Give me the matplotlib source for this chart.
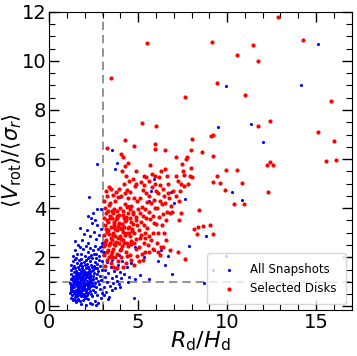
import matplotlib
matplotlib.use("Agg")
import matplotlib.pyplot as plt
from matplotlib.ticker import MultipleLocator

# 选中的盘星系 (R_d/H_d, <V_rot>/<sigma_r>)
red_x = [12.88, 5.52, 9.14, 11.46, 14.27, 10.58, 11.72, 3.45, 9.42, 11.01, 7.64, 15.82,
         12.42, 5.22, 6.01, 11.74, 15.09, 9.18, 4.25, 8.03, 16.03, 9.10, 3.24, 4.74,
         5.92, 5.97, 6.52, 7.96, 8.61, 9.18, 7.12, 7.75, 15.54, 16.14, 12.42, 12.25,
         12.56, 10.58, 9.93, 9.42, 9.23, 9.62, 9.89, 10.82, 12.28, 10.39, 10.93, 8.41,
         7.42, 8.13, 8.39, 8.63, 9.03, 8.31, 9.18, 7.27, 7.25, 7.64, 6.29, 6.09,
         5.28, 3.73,
         3.05, 3.10, 3.08, 3.12, 3.06, 3.15, 3.10, 3.20, 3.25, 3.30, 3.22, 3.28,
         3.18, 3.30, 3.25, 3.35, 3.40, 3.38, 3.45, 3.42, 3.40, 3.48, 3.35, 3.50,
         3.47, 3.15, 3.32, 3.20, 3.12, 3.45,
         3.55, 3.60, 3.52, 3.58, 3.65, 3.55, 3.62, 3.70, 3.60, 3.75, 3.80, 3.72,
         3.85, 3.78, 3.90, 3.82, 3.95, 3.88, 3.92, 3.68, 3.75, 3.98, 3.95, 3.85,
         3.60, 3.90, 3.70, 3.58, 3.65, 3.83, 3.78,
         4.05, 4.10, 4.02, 4.15, 4.08, 4.20, 4.12, 4.25, 4.05, 4.18, 4.10, 4.05,
         4.15, 4.25, 4.30, 4.30, 4.35, 4.28, 4.40, 4.32, 4.45, 4.38, 4.42, 4.35,
         4.48, 4.40, 4.30, 4.45, 4.20, 4.48, 4.22, 4.12, 4.38,
         4.55, 4.60, 4.52, 4.65, 4.58, 4.70, 4.62, 4.75, 4.55, 4.80, 4.70, 4.90,
         4.85, 4.90, 4.78, 4.95, 4.88, 4.98, 4.92, 4.85, 4.60, 4.95, 4.75, 4.72,
         4.52,
         5.05, 5.10, 5.02, 5.15, 5.08, 5.20, 5.12, 5.25, 5.18, 5.30, 5.35, 5.40,
         5.32, 5.45, 5.38, 5.48, 5.42, 5.30, 5.45, 5.20, 5.05, 5.40, 5.25,
         5.55, 5.60, 5.52, 5.65, 5.58, 5.70, 5.62, 5.75, 5.58, 5.80, 5.65, 5.85,
         5.90, 5.82, 5.95, 5.88, 5.98, 5.92, 5.70, 5.85, 5.60, 5.95,
         6.05, 6.10, 6.02, 6.15, 6.08, 6.20, 6.12, 6.25, 6.18, 6.30, 6.35, 6.40,
         6.32, 6.45, 6.38, 6.48, 6.40, 6.20, 6.45,
         6.55, 6.60, 6.52, 6.65, 6.70, 6.62, 6.78, 6.85, 6.75, 6.90, 6.95, 6.80,
         6.58,
         7.10, 7.25, 7.40, 7.50, 7.35, 7.60, 7.70, 7.45, 7.30, 7.80, 7.95, 7.90,
         8.05, 7.15, 7.60,
         3.14, 3.27, 3.36, 3.44, 3.57, 3.66, 3.74, 3.87, 3.96, 4.07, 4.17, 4.27,
         4.36, 4.47, 4.57, 4.67, 4.77, 3.17, 3.34, 3.53, 3.63, 3.81, 3.93, 4.14,
         4.33, 4.52, 4.68, 4.87, 5.14, 5.37, 3.24, 3.49, 3.71, 4.03, 4.24]
red_y = [11.80, 10.71, 10.75, 10.66, 10.83, 10.22, 9.98, 9.29, 9.11, 8.62, 8.54, 8.38,
         7.57, 7.47, 7.34, 7.34, 7.12, 7.00, 6.78, 6.81, 6.74, 6.92, 6.44, 6.54,
         6.62, 6.41, 6.35, 6.37, 6.28, 6.12, 6.07, 6.07, 5.93, 5.95, 5.87, 5.76,
         5.76, 5.55, 5.55, 5.33, 5.07, 5.04, 4.76, 5.02, 4.64, 4.16, 4.16, 3.93,
         3.80, 3.16, 3.25, 3.28, 3.31, 2.96, 2.96, 3.50, 2.21, 1.94, 2.43, 2.20,
         1.90, 1.55,
         2.10, 2.45, 2.90, 3.30, 3.60, 4.00, 4.30, 4.70, 4.50, 3.90, 3.50, 3.10,
         2.70, 2.30, 1.90, 2.00, 2.60, 2.95, 3.25, 3.70, 4.20, 4.80, 4.85, 2.20,
         1.75, 1.65, 3.45, 3.15, 2.55, 2.80,
         2.00, 2.35, 2.70, 3.00, 3.35, 3.60, 3.95, 4.30, 4.55, 4.65, 2.15, 2.50,
         2.80, 3.10, 3.40, 3.70, 4.00, 4.45, 2.60, 2.85, 3.55, 3.20, 2.30, 1.85,
         1.60, 4.80, 3.15, 3.80, 2.55, 3.90, 1.55,
         2.00, 2.45, 2.75, 3.05, 3.35, 3.60, 3.90, 4.15, 4.50, 5.00, 5.50, 6.20,
         6.10, 5.70, 5.30, 2.20, 2.60, 2.90, 3.20, 3.50, 3.80, 4.05, 4.40, 4.75,
         5.10, 5.85, 1.75, 2.45, 3.25, 3.00, 2.60, 1.60, 2.05,
         2.10, 2.55, 2.85, 3.15, 3.45, 3.75, 4.10, 4.40, 4.65, 4.90, 5.20, 5.50,
         2.35, 2.75, 3.00, 3.30, 3.65, 3.95, 4.30, 5.00, 1.90, 2.05, 1.70, 3.35,
         3.95,
         2.40, 2.80, 3.10, 3.45, 3.80, 4.05, 4.40, 4.75, 5.05, 5.30, 2.60, 3.00,
         3.30, 3.60, 3.95, 4.25, 4.60, 4.95, 5.25, 2.15, 1.85, 2.20, 3.70,
         2.50, 2.85, 3.20, 3.55, 3.85, 4.20, 4.50, 4.85, 5.10, 5.40, 5.75, 3.00,
         3.40, 3.70, 4.00, 4.35, 4.70, 5.00, 2.70, 2.35, 2.20, 5.30,
         2.60, 3.00, 3.35, 3.65, 4.00, 4.30, 4.60, 4.95, 5.25, 5.50, 3.30, 3.75,
         4.15, 4.50, 4.80, 5.60, 2.40, 2.10, 3.00,
         3.50, 3.85, 4.20, 4.60, 5.00, 5.30, 3.80, 4.10, 4.40, 3.85, 4.70, 2.30,
         2.70,
         4.50, 5.10, 5.00, 5.50, 4.70, 5.35, 6.00, 5.80, 4.30, 5.00, 5.65, 5.30,
         5.25, 5.30, 4.90,
         2.62, 3.04, 2.48, 3.58, 2.92, 3.22, 2.64, 3.28, 2.86, 3.14, 2.72, 3.46,
         2.98, 3.24, 2.68, 3.06, 2.58, 3.82, 4.12, 3.88, 3.42, 3.58, 3.72, 3.74,
         3.66, 3.58, 3.86, 3.52, 2.92, 2.78, 2.22, 2.08, 2.02, 2.32, 4.62]

# 其余快照
blue_x = [1.35, 1.50, 1.62, 1.78, 1.90, 2.05, 2.20, 2.40, 2.55, 2.75, 2.90, 1.45,
          1.70, 2.30, 1.25, 2.00, 2.60,
          1.15, 1.20, 1.28, 1.33, 1.40, 1.42, 1.50, 1.55, 1.60, 1.65, 1.70, 1.72,
          1.80, 1.85, 1.88, 1.95, 2.00, 2.08, 2.12, 2.20, 2.25, 2.35, 2.45, 2.55,
          2.70, 2.85, 1.25, 1.37, 1.58, 1.76, 1.92, 2.03, 2.15, 2.40, 2.62, 2.95,
          1.48, 1.68, 1.82, 2.28,
          1.18, 1.22, 1.30, 1.35, 1.40, 1.45, 1.50, 1.55, 1.60, 1.63, 1.70, 1.75,
          1.80, 1.85, 1.90, 1.95, 2.00, 2.05, 2.10, 2.18, 2.25, 2.30, 2.38, 2.45,
          2.55, 2.65, 2.80, 2.90, 1.27, 1.42, 1.57, 1.67, 1.78, 1.88, 1.98, 2.12,
          2.20, 2.50, 2.72, 1.52, 1.72, 2.35,
          1.20, 1.25, 1.32, 1.38, 1.44, 1.48, 1.53, 1.58, 1.62, 1.68, 1.72, 1.77,
          1.82, 1.87, 1.92, 1.97, 2.02, 2.08, 2.13, 2.18, 2.24, 2.30, 2.37, 2.44,
          2.50, 2.58, 2.66, 2.75, 2.85, 2.95, 1.35, 1.65, 1.85, 2.05, 2.27, 2.48,
          2.70,
          1.25, 1.33, 1.40, 1.47, 1.55, 1.60, 1.66, 1.73, 1.80, 1.86, 1.93, 2.00,
          2.06, 2.12, 2.20, 2.27, 2.34, 2.42, 2.50, 2.58, 2.68, 2.78, 2.88, 2.95,
          1.50, 1.78, 2.15, 2.38, 2.62,
          1.35, 1.45, 1.58, 1.70, 1.80, 1.90, 2.00, 2.08, 2.18, 2.28, 2.35, 2.45,
          2.55, 2.62, 2.72, 2.80, 2.90, 2.97, 1.62, 2.22, 2.50, 2.85,
          1.45, 1.70, 1.85, 1.95, 2.10, 2.20, 2.30, 2.40, 2.50, 2.60, 2.70, 2.80,
          2.90, 2.98, 2.35, 2.20, 2.55,
          2.25, 2.66, 2.70, 2.90, 2.45,
          1.23, 1.31, 1.39, 1.46, 1.54, 1.61, 1.69, 1.76, 1.84, 1.91, 1.99, 2.07,
          2.14, 2.23, 2.31, 1.28, 1.36, 1.43, 1.51, 1.59, 1.67, 1.74, 1.83, 1.89,
          1.96, 2.04, 2.11, 2.19, 2.26, 2.33, 1.21, 1.34, 1.47, 1.56, 1.64, 1.79,
          1.94, 2.09, 2.16, 2.42, 1.29, 1.41, 1.53, 1.69, 1.81, 1.97, 2.13, 2.29,
          3.05, 3.10, 3.12, 3.15, 3.20, 3.25, 3.30, 3.35, 3.40, 3.45, 3.50, 3.55,
          3.60, 3.62, 3.70, 3.75, 3.80, 3.85, 3.90, 3.95, 4.05, 4.10, 4.20, 4.35,
          4.50, 4.83, 5.11, 5.62, 4.74, 4.40, 3.22, 3.50, 3.10, 3.30, 4.60, 4.00,
          3.50, 3.78, 3.70, 4.00, 4.45, 5.70, 5.60, 5.90, 6.85, 7.64, 7.00, 6.69,
          6.50, 6.10, 5.90, 6.91, 7.85, 8.82, 9.23, 8.71, 9.96, 10.28, 10.81, 9.48,
          11.35, 12.04, 9.96, 14.14, 15.11, 4.80, 5.30, 3.90, 4.25, 6.30]
blue_y = [0.25, 0.18, 0.32, 0.10, 0.28, 0.05, 0.30, 0.08, 0.22, 0.12, 0.35, 0.38,
          0.22, 0.15, 0.35, 0.36, 0.05,
          0.55, 0.70, 0.45, 0.62, 0.78, 0.50, 0.66, 0.42, 0.74, 0.55, 0.46, 0.68,
          0.60, 0.75, 0.43, 0.52, 0.70, 0.62, 0.45, 0.56, 0.76, 0.50, 0.68, 0.58,
          0.48, 0.72, 0.80, 0.55, 0.60, 0.78, 0.66, 0.44, 0.73, 0.42, 0.78, 0.55,
          0.48, 0.64, 0.50, 0.64,
          0.95, 1.10, 0.85, 1.02, 1.18, 0.90, 1.08, 0.83, 1.00, 1.15, 0.88, 1.05,
          0.95, 1.18, 0.82, 1.00, 1.12, 0.90, 1.05, 0.85, 1.15, 0.98, 0.88, 1.10,
          0.95, 1.15, 0.90, 1.08, 1.17, 0.98, 1.12, 0.96, 0.84, 1.08, 0.92, 1.18,
          0.96, 0.82, 1.02, 0.94, 1.16, 1.06,
          1.30, 1.48, 1.22, 1.40, 1.55, 1.28, 1.45, 1.25, 1.38, 1.52, 1.30, 1.44,
          1.22, 1.35, 1.50, 1.28, 1.42, 1.58, 1.25, 1.40, 1.52, 1.30, 1.46, 1.22,
          1.38, 1.55, 1.30, 1.45, 1.25, 1.50, 1.58, 1.23, 1.56, 1.33, 1.24, 1.50,
          1.58,
          1.70, 1.85, 1.65, 1.92, 1.75, 1.62, 1.88, 1.70, 1.95, 1.64, 1.80, 1.68,
          1.90, 1.72, 1.62, 1.85, 1.70, 1.98, 1.66, 1.82, 1.72, 1.90, 1.65, 1.85,
          1.98, 1.78, 1.96, 1.60, 1.96,
          2.05, 2.30, 2.12, 2.40, 2.15, 2.32, 2.05, 2.45, 2.20, 2.38, 2.08, 2.28,
          2.45, 2.15, 2.35, 2.05, 2.25, 2.45, 2.48, 2.02, 2.12, 2.40,
          2.65, 3.20, 2.70, 2.95, 3.10, 2.60, 2.85, 3.40, 3.05, 2.75, 3.30, 2.90,
          3.15, 2.60, 3.60, 3.70, 3.50,
          4.47, 5.80, 3.95, 3.97, 3.80,
          0.64, 0.92, 0.58, 1.14, 0.86, 0.52, 1.26, 0.97, 0.68, 1.21, 0.87, 0.58,
          1.32, 0.93, 1.09, 0.76, 1.06, 0.64, 1.34, 0.71, 0.99, 1.36, 0.72, 1.27,
          0.81, 1.19, 0.69, 1.01, 1.41, 0.84, 0.88, 0.32, 0.27, 1.03, 0.26, 0.41,
          1.43, 0.33, 1.62, 0.96, 0.61, 1.16, 0.94, 0.81, 1.11, 0.76, 0.91, 1.14]
blue_y += [0.45, 0.80, 1.20, 1.50, 0.60, 1.00, 1.35, 0.40, 0.85, 1.60, 0.65, 1.15,
           0.95, 1.45, 0.75, 1.25, 1.05, 1.70, 0.90, 1.40, 1.15, 1.85, 1.30, 1.60,
           1.20, 1.13, 1.26, 1.13, 0.35, 1.00, 1.80, 1.90, 2.20, 0.30, 1.75, 0.80,
           6.36, 5.86, 5.60, 4.45, 4.10, 4.70, 4.30, 5.20, 4.65, 4.39, 4.20, 2.05,
           1.70, 1.85, 2.30, 1.32, 2.45, 2.86, 1.49, 0.94, 2.07, 4.65, 4.34, 7.31,
           7.43, 6.70, 8.96, 9.02, 10.67, 2.40, 2.00, 2.10, 3.00, 2.30]

fig = plt.figure(figsize=(3.57, 3.56), dpi=100)
ax = fig.add_axes([0.138, 0.129, 0.847, 0.838])

ax.scatter(blue_x, blue_y, s=5, c="blue", marker="o", linewidths=0,
           label="All Snapshots", zorder=2)
ax.scatter(red_x, red_y, s=9, c="red", marker="o", linewidths=0,
           label="Selected Disks", zorder=3)

ax.axvline(3, color="gray", ls="--", lw=1.2, dashes=(5, 3), zorder=1)
ax.axhline(1, color="gray", ls="--", lw=1.2, dashes=(5, 3), zorder=1)

ax.set_xlim(0, 17)
ax.set_ylim(-0.15, 12)
ax.xaxis.set_major_locator(MultipleLocator(5))
ax.xaxis.set_minor_locator(MultipleLocator(1))
ax.yaxis.set_major_locator(MultipleLocator(2))
ax.yaxis.set_minor_locator(MultipleLocator(0.5))
ax.tick_params(which="both", direction="in", top=True, right=True, labelsize=14)
ax.tick_params(which="major", length=7, width=1, pad=2)
ax.tick_params(which="minor", length=4, width=0.8)

ax.set_xlabel(r"$R_{\rm d}/H_{\rm d}$", fontsize=16)
ax.set_ylabel(r"$\langle V_{\rm rot}\rangle/\langle\sigma_r\rangle$", fontsize=15)
ax.xaxis.set_label_coords(0.5, -0.065)
ax.yaxis.set_label_coords(-0.085, 0.5)

ax.legend(loc="lower right", fontsize=8.5, markerscale=1.0, handletextpad=0.8,
          borderpad=0.8)

plt.savefig("out.png", dpi=100)
